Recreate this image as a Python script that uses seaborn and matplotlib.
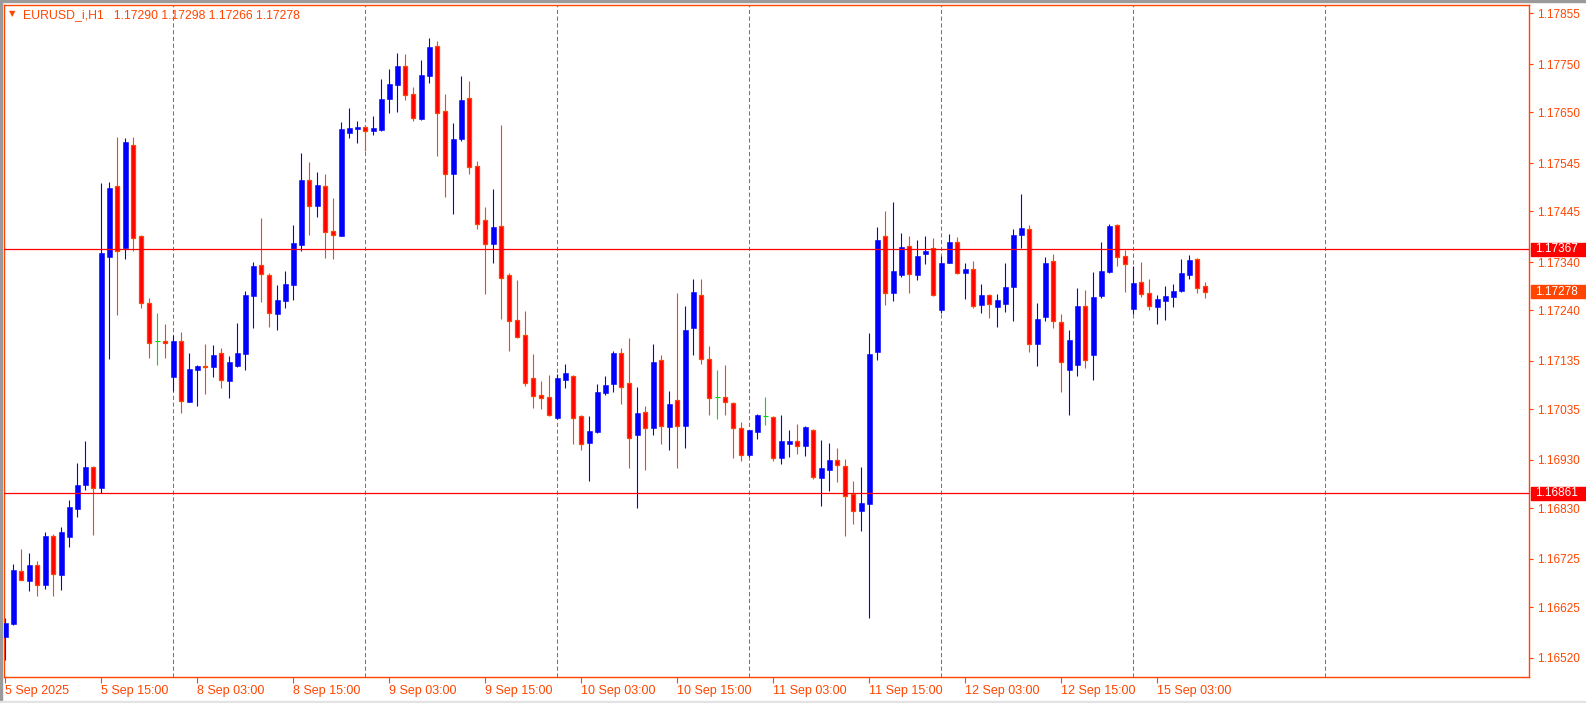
import numpy as np
import pandas as pd
import matplotlib
matplotlib.use("Agg")
import matplotlib.pyplot as plt
import seaborn as sns
from matplotlib.patches import Rectangle
from matplotlib.transforms import blended_transform_factory

# EURUSD_i H1 candles, 5 Sep 2025 03:00 -> 15 Sep 2025 09:00
opens = [1.16563, 1.16589, 1.16700, 1.16680, 1.16712, 1.16671, 1.16772, 1.16692, 1.16771, 1.16829,
         1.16879, 1.16915, 1.16872, 1.17351, 1.17498, 1.17370, 1.17582, 1.17394, 1.17255, 1.17176,
         1.17176, 1.17102, 1.17176, 1.17051, 1.17117, 1.17125, 1.17123, 1.17152, 1.17094, 1.17125,
         1.17150, 1.17270, 1.17334, 1.17313, 1.17233, 1.17260, 1.17292, 1.17375, 1.17510, 1.17457,
         1.17498, 1.17404, 1.17394, 1.17608, 1.17616, 1.17620, 1.17612, 1.17614, 1.17678, 1.17707,
         1.17746, 1.17688, 1.17636, 1.17726, 1.17788, 1.17653, 1.17523, 1.17595, 1.17680, 1.17539,
         1.17427, 1.17378, 1.17415, 1.17313, 1.17220, 1.17189, 1.17100, 1.17064, 1.17060, 1.17017,
         1.17096, 1.17104, 1.17021, 1.16966, 1.16988, 1.17069, 1.17088, 1.17152, 1.17089, 1.16982,
         1.17029, 1.16997, 1.17137, 1.16999, 1.17054, 1.17001, 1.17204, 1.17272, 1.17139, 1.17060,
         1.17061, 1.17048, 1.16996, 1.16940, 1.16988, 1.17020, 1.17019, 1.16933, 1.16964, 1.16969,
         1.16959, 1.16992, 1.16893, 1.16910, 1.16930, 1.16917, 1.16860, 1.16825, 1.16839, 1.17154,
         1.17394, 1.17276, 1.17314, 1.17373, 1.17314, 1.17357, 1.17369, 1.17241, 1.17339, 1.17381,
         1.17318, 1.17326, 1.17252, 1.17272, 1.17247, 1.17254, 1.17289, 1.17395, 1.17408, 1.17171,
         1.17227, 1.17342, 1.17216, 1.17116, 1.17127, 1.17249, 1.17147, 1.17270, 1.17319, 1.17417,
         1.17352, 1.17243, 1.17299, 1.17276, 1.17247, 1.17260, 1.17268, 1.17279, 1.17313, 1.17346,
         1.17290]
highs = [1.16602, 1.16714, 1.16745, 1.16737, 1.16721, 1.16781, 1.16777, 1.16791, 1.16847, 1.16924,
         1.16969, 1.16917, 1.17504, 1.17506, 1.17600, 1.17596, 1.17600, 1.17396, 1.17265, 1.17234,
         1.17212, 1.17189, 1.17195, 1.17152, 1.17127, 1.17170, 1.17168, 1.17162, 1.17145, 1.17214,
         1.17280, 1.17340, 1.17431, 1.17317, 1.17292, 1.17321, 1.17417, 1.17566, 1.17547, 1.17527,
         1.17522, 1.17473, 1.17630, 1.17659, 1.17633, 1.17622, 1.17643, 1.17719, 1.17740, 1.17773,
         1.17771, 1.17703, 1.17759, 1.17804, 1.17798, 1.17688, 1.17628, 1.17726, 1.17715, 1.17549,
         1.17454, 1.17491, 1.17624, 1.17317, 1.17303, 1.17239, 1.17149, 1.17093, 1.17106, 1.17108,
         1.17129, 1.17106, 1.17023, 1.17022, 1.17087, 1.17104, 1.17156, 1.17162, 1.17183, 1.17082,
         1.17042, 1.17170, 1.17147, 1.17073, 1.17276, 1.17249, 1.17305, 1.17305, 1.17166, 1.17116,
         1.17127, 1.17050, 1.17008, 1.16992, 1.17025, 1.17060, 1.17021, 1.17023, 1.16992, 1.17004,
         1.17000, 1.16994, 1.16971, 1.16965, 1.16955, 1.16932, 1.16887, 1.16916, 1.17193, 1.17413,
         1.17446, 1.17464, 1.17400, 1.17394, 1.17386, 1.17394, 1.17390, 1.17352, 1.17398, 1.17392,
         1.17338, 1.17342, 1.17294, 1.17274, 1.17274, 1.17338, 1.17408, 1.17481, 1.17417, 1.17255,
         1.17350, 1.17357, 1.17232, 1.17199, 1.17286, 1.17282, 1.17319, 1.17381, 1.17419, 1.17419,
         1.17365, 1.17332, 1.17340, 1.17305, 1.17272, 1.17290, 1.17294, 1.17346, 1.17355, 1.17348,
         1.17298]
lows = [1.16515, 1.16588, 1.16681, 1.16659, 1.16647, 1.16663, 1.16647, 1.16661, 1.16750, 1.16812,
        1.16868, 1.16775, 1.16861, 1.17140, 1.17231, 1.17347, 1.17363, 1.17245, 1.17142, 1.17127,
        1.17142, 1.17073, 1.17027, 1.17049, 1.17042, 1.17067, 1.17102, 1.17080, 1.17059, 1.17123,
        1.17117, 1.17204, 1.17258, 1.17206, 1.17200, 1.17245, 1.17261, 1.17363, 1.17396, 1.17434,
        1.17348, 1.17346, 1.17394, 1.17596, 1.17587, 1.17571, 1.17603, 1.17612, 1.17649, 1.17651,
        1.17676, 1.17632, 1.17634, 1.17711, 1.17560, 1.17475, 1.17440, 1.17591, 1.17523, 1.17409,
        1.17274, 1.17339, 1.17223, 1.17156, 1.17183, 1.17084, 1.17038, 1.17036, 1.17022, 1.17015,
        1.17078, 1.16964, 1.16951, 1.16887, 1.16986, 1.17065, 1.17071, 1.17046, 1.16914, 1.16830,
        1.16910, 1.16982, 1.16964, 1.16951, 1.16914, 1.16955, 1.17148, 1.17129, 1.17024, 1.17015,
        1.17024, 1.16933, 1.16928, 1.16937, 1.16974, 1.17003, 1.16928, 1.16922, 1.16935, 1.16943,
        1.16939, 1.16891, 1.16835, 1.16866, 1.16885, 1.16773, 1.16798, 1.16783, 1.16603, 1.17138,
        1.17252, 1.17260, 1.17308, 1.17276, 1.17303, 1.17336, 1.17270, 1.17235, 1.17337, 1.17316,
        1.17264, 1.17245, 1.17235, 1.17225, 1.17206, 1.17237, 1.17218, 1.17370, 1.17154, 1.17125,
        1.17218, 1.17204, 1.17071, 1.17023, 1.17104, 1.17120, 1.17096, 1.17265, 1.17317, 1.17332,
        1.17278, 1.17233, 1.17268, 1.17241, 1.17212, 1.17220, 1.17247, 1.17277, 1.17305, 1.17276,
        1.17266]
closes = [1.16592, 1.16702, 1.16681, 1.16712, 1.16671, 1.16772, 1.16694, 1.16781, 1.16832, 1.16878,
          1.16915, 1.16871, 1.17359, 1.17493, 1.17363, 1.17589, 1.17390, 1.17256, 1.17173, 1.17176,
          1.17172, 1.17176, 1.17053, 1.17118, 1.17125, 1.17123, 1.17147, 1.17096, 1.17133, 1.17152,
          1.17272, 1.17332, 1.17316, 1.17235, 1.17261, 1.17294, 1.17379, 1.17510, 1.17457, 1.17500,
          1.17403, 1.17397, 1.17616, 1.17618, 1.17620, 1.17612, 1.17618, 1.17678, 1.17709, 1.17746,
          1.17686, 1.17638, 1.17728, 1.17786, 1.17649, 1.17523, 1.17595, 1.17676, 1.17537, 1.17419,
          1.17377, 1.17413, 1.17306, 1.17217, 1.17185, 1.17090, 1.17063, 1.17059, 1.17024, 1.17100,
          1.17110, 1.17017, 1.16964, 1.16990, 1.17071, 1.17085, 1.17152, 1.17082, 1.16976, 1.17027,
          1.16997, 1.17133, 1.17001, 1.17046, 1.17001, 1.17199, 1.17278, 1.17140, 1.17059, 1.17060,
          1.17049, 1.16997, 1.16941, 1.16992, 1.17023, 1.17020, 1.16933, 1.16969, 1.16969, 1.16959,
          1.16998, 1.16895, 1.16913, 1.16930, 1.16920, 1.16856, 1.16825, 1.16841, 1.17149, 1.17386,
          1.17276, 1.17321, 1.17371, 1.17316, 1.17352, 1.17363, 1.17272, 1.17338, 1.17381, 1.17318,
          1.17326, 1.17249, 1.17272, 1.17254, 1.17261, 1.17288, 1.17396, 1.17411, 1.17171, 1.17222,
          1.17338, 1.17218, 1.17133, 1.17178, 1.17249, 1.17137, 1.17268, 1.17321, 1.17415, 1.17351,
          1.17336, 1.17297, 1.17274, 1.17248, 1.17263, 1.17270, 1.17280, 1.17317, 1.17344, 1.17287,
          1.17278]

# trading hours shown (weekend skipped)
sessions = [("2025-09-05 03:00", "2025-09-05 23:00"),
            ("2025-09-08 00:00", "2025-09-12 23:00"),
            ("2025-09-15 00:00", "2025-09-15 09:00")]

# horizontal levels and price axis ticks
levels = [1.17367, 1.16861]
y_ticks = [1.17855, 1.17750, 1.17650, 1.17545, 1.17445, 1.17340, 1.17240,
           1.17135, 1.17035, 1.16930, 1.16830, 1.16725, 1.16625, 1.16520]
symbol = "EURUSD_i,H1"

times = pd.DatetimeIndex(np.concatenate([pd.date_range(a, b, freq="h").values for a, b in sessions]))
df = pd.DataFrame({"time": times, "open": opens, "high": highs, "low": lows, "close": closes})
df["x"] = np.arange(len(df))

ORANGE = "#FF4500"
BLUE = "#0000FF"
RED = "#FF0000"
GREEN = "#00E000"

sns.set_theme(style="white")
plt.rcParams['font.family'] = ['Liberation Sans', 'DejaVu Sans']

W, H = 1586, 703
fig = plt.figure(figsize=(W / 100, H / 100), dpi=100)
fig.patch.set_facecolor("white")
ax = fig.add_axes([4 / W, (H - 677) / H, (1529 - 4) / W, (677 - 4.5) / H])
ax.set_facecolor("white")

up = df[df.close > df.open]
dn = df[df.close < df.open]
flat = df[df.close == df.open]

wick_col = np.where(df.close > df.open, BLUE, np.where(df.close < df.open, ORANGE, GREEN))
ax.vlines(df.x, df.low, df.high, colors=wick_col, linewidth=0.8, zorder=2)

min_h = 0.000015
ax.bar(up.x, np.maximum(up.close - up.open, min_h), bottom=up.open, width=0.58,
       color=BLUE, edgecolor=BLUE, linewidth=0.4, zorder=3)
ax.bar(dn.x, np.maximum(dn.open - dn.close, min_h), bottom=dn.close, width=0.52,
       color=RED, edgecolor=ORANGE, linewidth=0.9, zorder=3)
ax.hlines(flat.close, flat.x - 0.32, flat.x + 0.32, colors=GREEN, linewidth=0.8, zorder=3)

# day separators
day_x = list(df.x[df.time.dt.hour == 0])
day_x.append(df.x.iloc[-1] + (24 - df.time.iloc[-1].hour))
for d in day_x:
    ax.axvline(d, color=ORANGE, linewidth=0.75, linestyle=(0, (4, 2.5)), zorder=1)

for lv in levels:
    ax.axhline(lv, color=RED, linewidth=0.9, zorder=4)

ax.set_xlim(-0.16, 190.46)
ax.set_ylim(1.164802, 1.178736)

for s in ax.spines.values():
    s.set_color(ORANGE)
    s.set_linewidth(1.0)

# x ticks every 12 hours
lab = df[df.time.dt.hour.isin([3, 15])]
xlabels = [t.strftime("%-d %b %H:%M") for t in lab.time]
xlabels[0] = lab.time.iloc[0].strftime("%-d %b %Y")
ax.set_xticks(lab.x)
ax.set_xticklabels(xlabels, ha="left")
ax.yaxis.tick_right()
ax.set_yticks(y_ticks)
ax.set_yticklabels([f"{v:.5f}" for v in y_ticks])
ax.tick_params(axis="x", direction="out", length=4, width=0.8, color=ORANGE,
               labelcolor=ORANGE, labelsize=9, pad=1.5, bottom=True)
ax.tick_params(axis="y", direction="out", length=3, width=0.8, color=ORANGE,
               labelcolor=ORANGE, labelsize=8.5, pad=2.5, right=True, left=False)
ax.grid(False)

# price boxes on the right axis
tr = blended_transform_factory(ax.transAxes, ax.transData)
ax_w = 1529 - 4
box_h = 13 / 48262
def price_box(price, fc):
    ax.add_patch(Rectangle((1 + 2 / ax_w, price - box_h / 2), 57 / ax_w, box_h, transform=tr,
                           facecolor=fc, edgecolor=fc, clip_on=False, zorder=10))
    ax.text(1 + 6 / ax_w, price, f"{price:.5f}", transform=tr, color="white", fontsize=8.5,
            ha="left", va="center", clip_on=False, zorder=11)

for lv in levels:
    price_box(lv, RED)
price_box(closes[-1], ORANGE)

# header
fig.text(12.7 / W, 1 - 14 / H, "▼", color=ORANGE, fontsize=6, ha="center", va="center",
         family="DejaVu Sans")
head = f"{symbol}   {opens[-1]:.5f} {highs[-1]:.5f} {lows[-1]:.5f} {closes[-1]:.5f}"
fig.text(23 / W, 1 - 15 / H, head, color=ORANGE, fontsize=8.8, ha="left", va="center")

# window borders
fig.add_artist(Rectangle((0, 0), 1.5 / W, 1, transform=fig.transFigure, color="#9A9A9A", zorder=20))
fig.add_artist(Rectangle((0, 1 - 1.5 / H), 1, 1.5 / H, transform=fig.transFigure, color="#9A9A9A", zorder=20))
fig.add_artist(Rectangle((0, 0), 1, 2.5 / H, transform=fig.transFigure, color="#E3E3E3", zorder=20))

fig.savefig("out.png", dpi=100, facecolor="white")
